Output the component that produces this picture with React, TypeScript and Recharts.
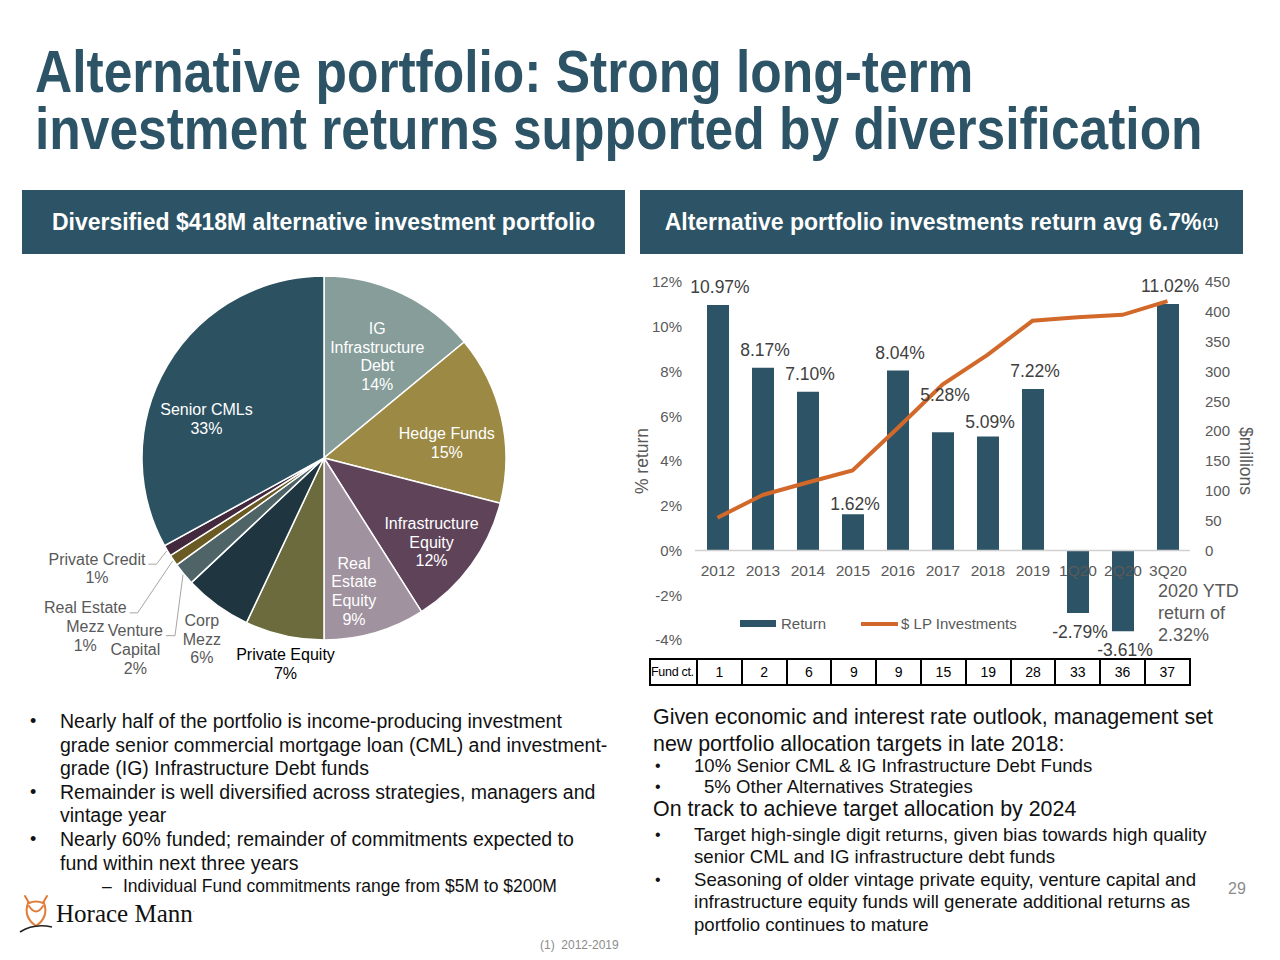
import React from 'react';
import {
  PieChart,
  Pie,
  Cell,
  ComposedChart,
  Bar,
  Line,
  XAxis,
  YAxis,
  ReferenceLine,
  LabelList,
  Legend,
} from 'recharts';

const FONT = '"Liberation Sans", Arial, Helvetica, sans-serif';
const TEAL = '#2C5466';
const ORANGE = '#D2692A';
const GREY = '#595959';

// allocation pie, clockwise from 12 o'clock
const sliceNames = [
  'IG Infrastructure Debt',
  'Hedge Funds',
  'Infrastructure Equity',
  'Real Estate Equity',
  'Private Equity',
  'Corp Mezz',
  'Venture Capital',
  'Real Estate Mezz',
  'Private Credit',
  'Senior CMLs',
];
const sliceShares = [14, 15, 12, 9, 7, 6, 2, 1, 1, 33];
const sliceColors = [
  '#869D9A',
  '#9B8944',
  '#5E4359',
  '#A0929E',
  '#6B6B3D',
  '#1F3641',
  '#4F6467',
  '#6A5B25',
  '#43293D',
  '#2C5262',
];

// returns chart
const periods = ['2012', '2013', '2014', '2015', '2016', '2017', '2018', '2019', '1Q20', '2Q20', '3Q20'];
const returnPct = [10.97, 8.17, 7.1, 1.62, 8.04, 5.28, 5.09, 7.22, -2.79, -3.61, 11.02];
const lpMillions = [55, 93, 114, 134, 205, 278, 328, 385, 391, 395, 418];
const fundCounts = [1, 2, 6, 9, 9, 15, 19, 28, 33, 36, 37];
const pctTicks = [-4, -2, 0, 2, 4, 6, 8, 10, 12];
const millionTicks = [0, 50, 100, 150, 200, 250, 300, 350, 400, 450];

const pieData = sliceNames.map((name, i) => ({ name, value: sliceShares[i] }));
const barData = periods.map((period, i) => ({ period, ret: returnPct[i], lp: lpMillions[i] }));

const leftBullets = [
  [
    'Nearly half of the portfolio is income-producing investment',
    'grade senior commercial mortgage loan (CML) and investment-',
    'grade (IG) Infrastructure Debt funds',
  ],
  ['Remainder is well diversified across strategies, managers and', 'vintage year'],
  ['Nearly 60% funded; remainder of commitments expected to', 'fund within next three years'],
];

type RightLine = { text: string; size: number; cy: number; bullet?: boolean; indent?: number };
const rightLines: RightLine[] = [
  { text: 'Given economic and interest rate outlook, management set', size: 21.4, cy: 718 },
  { text: 'new portfolio allocation targets in late 2018:', size: 21.4, cy: 745 },
  { text: '10% Senior CML & IG Infrastructure Debt Funds', size: 18.6, cy: 766, bullet: true },
  { text: '5% Other Alternatives Strategies', size: 18.6, cy: 787, bullet: true, indent: 10 },
  { text: 'On track to achieve target allocation by 2024', size: 21.4, cy: 810 },
  { text: 'Target high-single digit returns, given bias towards high quality', size: 18.6, cy: 835, bullet: true },
  { text: 'senior CML and IG infrastructure debt funds', size: 18.6, cy: 857 },
  { text: 'Seasoning of older vintage private equity, venture capital and', size: 18.6, cy: 880, bullet: true },
  { text: 'infrastructure equity funds will generate additional returns as', size: 18.6, cy: 902 },
  { text: 'portfolio continues to mature', size: 18.6, cy: 925 },
];

// where each pie label sits: inside (k = share of radius, turn = degrees clockwise)
// or outside with a leader [dx, dy, run]
type Spot = { lines: string[]; color: string; k?: number; turn?: number; leader?: [number, number, number] };
const SPOTS: Record<string, Spot> = {
  'IG Infrastructure Debt': { lines: ['IG', 'Infrastructure', 'Debt'], color: '#fff', k: 0.63, turn: 2.5 },
  'Hedge Funds': { lines: ['Hedge Funds'], color: '#fff', k: 0.68, turn: 5.6 },
  'Infrastructure Equity': { lines: ['Infrastructure', 'Equity'], color: '#fff', k: 0.75, turn: 2 },
  'Real Estate Equity': { lines: ['Real', 'Estate', 'Equity'], color: '#fff', k: 0.75, turn: 3.5 },
  'Private Equity': { lines: ['Private Equity'], color: '#000', k: 1.15, turn: -2 },
  'Corp Mezz': { lines: ['Corp', 'Mezz'], color: GREY, k: 1.2, turn: -2 },
  'Venture Capital': { lines: ['Venture', 'Capital'], color: GREY, leader: [-8, 61, 9] },
  'Real Estate Mezz': { lines: ['Real Estate', 'Mezz'], color: GREY, leader: [-35, 52, 8] },
  'Private Credit': { lines: ['Private Credit'], color: GREY, leader: [-10, 13, 8] },
  'Senior CMLs': { lines: ['Senior CMLs'], color: '#fff', k: 0.68, turn: -12.3 },
};

const RAD = Math.PI / 180;
let measureCtx: CanvasRenderingContext2D | null = null;
function measure(s: string, size: number) {
  if (!measureCtx) measureCtx = document.createElement('canvas').getContext('2d');
  if (!measureCtx) return s.length * size * 0.5;
  measureCtx.font = `${size}px ${FONT}`;
  return measureCtx.measureText(s).width;
}

function renderSliceLabel(props: any) {
  const { cx, cy, midAngle, outerRadius, name, value } = props;
  const spot = SPOTS[name];
  if (!spot) return null;
  const lines = [...spot.lines, `${value}%`];
  const fs = 16;
  const lh = 18.7;
  const theta = (90 - midAngle) * RAD;

  if (spot.leader) {
    const sx = cx + (outerRadius + 1) * Math.sin(theta);
    const sy = cy - (outerRadius + 1) * Math.cos(theta);
    const [dx, dy, run] = spot.leader;
    const ex = sx + dx;
    const ey = sy + dy;
    const hx = ex - run;
    const w = Math.max(...lines.map((l) => measure(l, fs)));
    const tx = hx - 3 - w / 2;
    return (
      <g>
        <polyline
          points={`${sx},${sy} ${ex},${ey} ${hx},${ey}`}
          fill="none"
          stroke="#a6a6a6"
          strokeWidth={1}
        />
        <text x={tx} y={ey - 5} fill={spot.color} fontSize={fs} fontFamily={FONT} textAnchor="middle">
          {lines.map((l, i) => (
            <tspan key={i} x={tx} dy={i === 0 ? '0.35em' : lh}>
              {l}
            </tspan>
          ))}
        </text>
      </g>
    );
  }

  const t = theta + (spot.turn ?? 0) * RAD;
  const r = outerRadius * (spot.k ?? 0.65);
  const x = cx + r * Math.sin(t);
  const y = cy - r * Math.cos(t);
  const y0 = y - ((lines.length - 1) * lh) / 2;
  return (
    <text x={x} y={y0} fill={spot.color} fontSize={fs} fontFamily={FONT} textAnchor="middle">
      {lines.map((l, i) => (
        <tspan key={i} x={x} dy={i === 0 ? '0.35em' : lh}>
          {l}
        </tspan>
      ))}
    </text>
  );
}

// hand-placed data labels in the source slide
const labelNudge: Record<string, number> = { '2015': 8, '2017': -19, '2018': 3 };

function barBox(props: any) {
  const vb = props.viewBox ?? props;
  const x = Number(vb.x ?? props.x);
  const y = Number(vb.y ?? props.y);
  const w = Number(vb.width ?? props.width);
  const h = Number(vb.height ?? props.height);
  return { cxm: x + w / 2, top: Math.min(y, y + h), bottom: Math.max(y, y + h) };
}

function renderReturnLabel(props: any) {
  const v = Number(props.value);
  const idx = returnPct.indexOf(v);
  const period = periods[idx];
  const { cxm, top, bottom } = barBox(props);
  const ty = v >= 0 ? top - 12 + (labelNudge[period] ?? 0) : bottom + 25;
  return (
    <text x={cxm + 2} y={ty} textAnchor="middle" fill="#404040" fontSize={17.5} fontFamily={FONT}>
      {v.toFixed(2)}%
    </text>
  );
}

function renderPeriodTick(props: any) {
  const idx = periods.indexOf(String(props.value));
  const { cxm, top, bottom } = barBox(props);
  const zero = returnPct[idx] >= 0 ? bottom : top;
  return (
    <text x={cxm} y={zero + 25} textAnchor="middle" fill={GREY} fontSize={15.5} fontFamily={FONT}>
      {props.value}
    </text>
  );
}

function axisTitle(text: string, dx: number, angle: number) {
  return (props: any) => {
    const vb = props.viewBox ?? {};
    const x = vb.x + dx;
    const y = vb.y + vb.height / 2;
    return (
      <text
        x={x}
        y={y}
        transform={`rotate(${angle}, ${x}, ${y})`}
        textAnchor="middle"
        dominantBaseline="central"
        fill={GREY}
        fontSize={17.5}
        fontFamily={FONT}
      >
        {text}
      </text>
    );
  };
}

function LegendRow(props: any) {
  const items = [...(props.payload ?? [])].sort(
    (a: any, b: any) => (a.type === 'line' ? 1 : 0) - (b.type === 'line' ? 1 : 0),
  );
  return (
    <div style={{ display: 'flex', alignItems: 'center', fontFamily: FONT, fontSize: 15, color: GREY }}>
      {items.map((it: any) => (
        <div key={it.value} style={{ display: 'flex', alignItems: 'center', marginRight: 35 }}>
          {it.type === 'line' ? (
            <span style={{ width: 37, height: 4, background: it.color, marginRight: 3 }} />
          ) : (
            <span style={{ width: 36, height: 7, background: it.color, marginRight: 5 }} />
          )}
          <span>{it.value}</span>
        </div>
      ))}
    </div>
  );
}

function Owl() {
  return (
    <svg width={36} height={42} viewBox="0 0 36 42">
      <g fill="none" stroke="#E07B39" strokeWidth={2} strokeLinecap="round">
        <path d="M7 3 L11 10 Q18 7 25 10 L29 3" />
        <path d="M10 10 Q5 24 18 33 Q31 24 26 10" />
        <path d="M11 13 Q18 24 25 13" />
      </g>
      <path d="M2 39 Q16 30 34 34" fill="none" stroke="#222" strokeWidth={1.6} />
    </svg>
  );
}

const titleLine: React.CSSProperties = {
  position: 'absolute',
  left: 35,
  fontSize: 51.5,
  lineHeight: '49px',
  fontWeight: 'bold',
  color: TEAL,
  whiteSpace: 'nowrap',
  transform: 'scaleY(1.15)',
  transformOrigin: '0 0',
};

const headerBox: React.CSSProperties = {
  position: 'absolute',
  top: 190,
  width: 603,
  height: 64,
  background: TEAL,
  color: '#fff',
  display: 'flex',
  alignItems: 'center',
  justifyContent: 'center',
  fontWeight: 'bold',
  fontSize: 23,
  whiteSpace: 'nowrap',
};

export default function App() {
  return (
    <div
      style={{
        position: 'absolute',
        left: 0,
        top: 0,
        width: 1280,
        height: 960,
        background: '#fff',
        fontFamily: FONT,
        overflow: 'hidden',
      }}
    >
      <div style={{ ...titleLine, top: 44 }}>Alternative portfolio: Strong long-term</div>
      <div style={{ ...titleLine, top: 101 }}>investment returns supported by diversification</div>

      <div style={{ ...headerBox, left: 22 }}>Diversified $418M alternative investment portfolio</div>
      <div style={{ ...headerBox, left: 640 }}>
        Alternative portfolio investments return avg 6.7%
        <sup style={{ fontSize: 13, marginLeft: 1 }}>(1)</sup>
      </div>

      <div style={{ position: 'absolute', left: 0, top: 250 }}>
        <PieChart width={640} height={450} margin={{ top: 0, right: 0, bottom: 0, left: 0 }}>
          <Pie
            data={pieData}
            dataKey="value"
            nameKey="name"
            cx={324}
            cy={208}
            outerRadius={182}
            startAngle={90}
            endAngle={-270}
            stroke="#fff"
            strokeWidth={1.5}
            label={renderSliceLabel}
            labelLine={false}
            isAnimationActive={false}
          >
            {pieData.map((d, i) => (
              <Cell key={d.name} fill={sliceColors[i]} />
            ))}
          </Pie>
        </PieChart>
      </div>

      <div style={{ position: 'absolute', left: 630, top: 265 }}>
        <ComposedChart
          width={640}
          height={400}
          data={barData}
          margin={{ top: 17, right: 20, bottom: 25, left: 0 }}
        >
          <XAxis dataKey="period" hide />
          <YAxis
            yAxisId="pct"
            domain={[-4, 12]}
            ticks={pctTicks}
            tickFormatter={(v: number) => `${v}%`}
            axisLine={false}
            tickLine={false}
            tickSize={0}
            tickMargin={13}
            width={65}
            tick={{ fill: GREY, fontSize: 15, fontFamily: FONT }}
            label={axisTitle('% return', 12, -90)}
          />
          <YAxis
            yAxisId="usd"
            orientation="right"
            domain={[-150, 450]}
            ticks={millionTicks}
            axisLine={false}
            tickLine={false}
            tickSize={0}
            tickMargin={15}
            width={60}
            tick={{ fill: GREY, fontSize: 15, fontFamily: FONT, textAnchor: 'start' }}
            label={axisTitle('$millions', 56, 90)}
          />
          <ReferenceLine yAxisId="pct" y={0} stroke="#d0d0d0" strokeWidth={1.3} />
          <Bar yAxisId="pct" dataKey="ret" name="Return" fill={TEAL} barSize={22} isAnimationActive={false}>
            <LabelList dataKey="ret" content={renderReturnLabel} />
            <LabelList dataKey="period" content={renderPeriodTick} />
          </Bar>
          <Line
            yAxisId="usd"
            type="linear"
            dataKey="lp"
            name="$ LP Investments"
            stroke={ORANGE}
            strokeWidth={4}
            dot={false}
            activeDot={false}
            isAnimationActive={false}
          />
          <Legend
            verticalAlign="middle"
            align="center"
            layout="horizontal"
            content={LegendRow}
            wrapperStyle={{ left: 110, top: 350, width: 330 }}
          />
        </ComposedChart>
      </div>

      <div
        style={{
          position: 'absolute',
          left: 1158,
          top: 580,
          fontSize: 18,
          lineHeight: '22px',
          color: GREY,
          whiteSpace: 'nowrap',
        }}
      >
        2020 YTD
        <br />
        return of
        <br />
        2.32%
      </div>

      <table
        style={{
          position: 'absolute',
          left: 649,
          top: 658,
          width: 540,
          height: 28,
          borderCollapse: 'collapse',
          fontSize: 14,
          tableLayout: 'fixed',
          border: '2px solid #000',
        }}
      >
        <colgroup>
          <col style={{ width: 47 }} />
          {fundCounts.map((_, i) => (
            <col key={i} style={{ width: 44.8 }} />
          ))}
        </colgroup>
        <tbody>
          <tr>
            <td
              style={{
                border: '2px solid #000',
                padding: 0,
                fontSize: 12.5,
                whiteSpace: 'nowrap',
                overflow: 'visible',
                letterSpacing: -0.3,
              }}
            >
              Fund ct.
            </td>
            {fundCounts.map((n, i) => (
              <td key={periods[i]} style={{ border: '2px solid #000', textAlign: 'center', padding: 0 }}>
                {n}
              </td>
            ))}
          </tr>
        </tbody>
      </table>

      <div
        style={{
          position: 'absolute',
          left: 30,
          top: 710,
          fontSize: 19.5,
          lineHeight: '23.6px',
          color: '#111',
          whiteSpace: 'nowrap',
        }}
      >
        {leftBullets.map((para, i) => (
          <div key={i} style={{ display: 'flex' }}>
            <span style={{ width: 30, fontSize: 18 }}>•</span>
            <span>
              {para.map((l, j) => (
                <div key={j}>{l}</div>
              ))}
            </span>
          </div>
        ))}
        <div style={{ display: 'flex', paddingLeft: 72, fontSize: 17.5 }}>
          <span style={{ width: 21 }}>–</span>
          <span>Individual Fund commitments range from $5M to $200M</span>
        </div>
      </div>

      {rightLines.map((l) => (
        <div
          key={l.text}
          style={{
            position: 'absolute',
            left: l.size > 20 ? 653 : 694 + (l.indent ?? 0),
            top: l.cy - l.size / 2,
            height: l.size,
            lineHeight: `${l.size}px`,
            fontSize: l.size,
            color: '#111',
            whiteSpace: 'nowrap',
          }}
        >
          {l.text}
        </div>
      ))}
      {rightLines
        .filter((l) => l.bullet)
        .map((l) => (
          <div
            key={'b' + l.text}
            style={{ position: 'absolute', left: 655, top: l.cy - 8, lineHeight: '16px', fontSize: 16, color: '#111' }}
          >
            •
          </div>
        ))}

      <div style={{ position: 'absolute', left: 18, top: 893, display: 'flex', alignItems: 'center' }}>
        <Owl />
        <span
          style={{
            fontFamily: '"Liberation Serif", "DejaVu Serif", serif',
            fontSize: 25,
            color: '#111',
            marginLeft: 2,
          }}
        >
          Horace Mann
        </span>
        <span style={{ fontSize: 6, color: '#111', alignSelf: 'flex-start', marginTop: 14 }}>.</span>
      </div>

      <div style={{ position: 'absolute', left: 1228, top: 880, fontSize: 16, color: '#8c8c8c' }}>29</div>
      <div style={{ position: 'absolute', left: 540, top: 938, fontSize: 12, color: '#8c8c8c', whiteSpace: 'pre' }}>
        (1)  2012-2019
      </div>
    </div>
  );
}
